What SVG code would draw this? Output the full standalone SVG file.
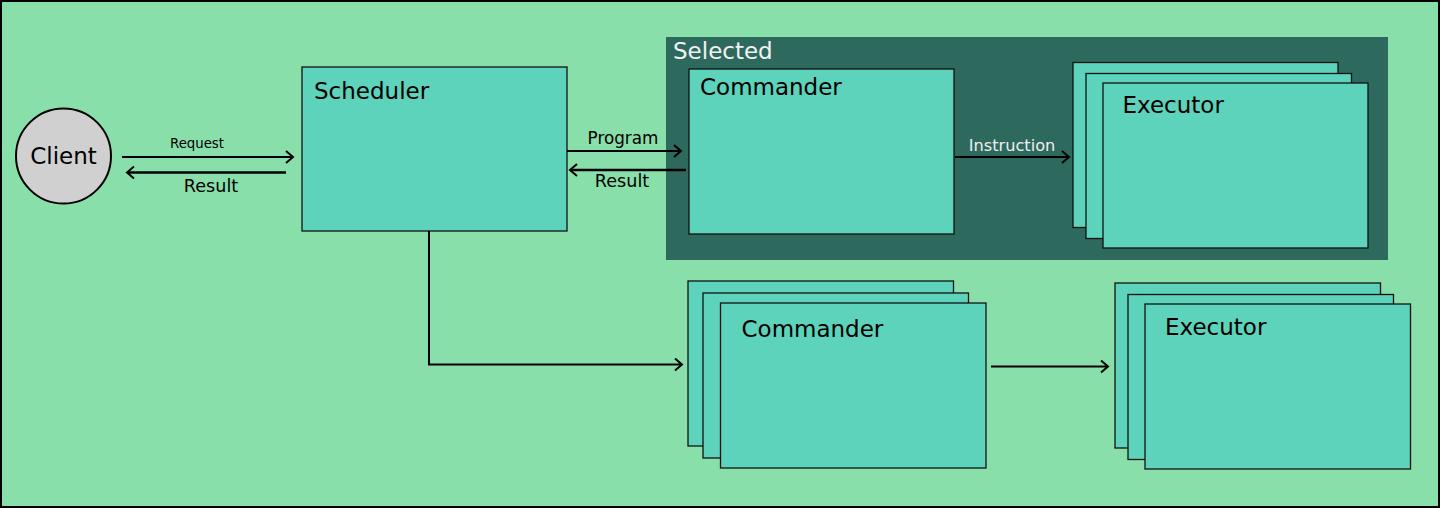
<svg xmlns="http://www.w3.org/2000/svg" width="1440" height="508" viewBox="0 0 1440 508">
<defs>
<style>
.bg{fill:#88dfaa;stroke:#000;stroke-width:2}
.box{fill:#5dd3bb;stroke:#111;stroke-width:1.3}
.lbl{font-family:"DejaVu Sans",sans-serif;font-size:23px;fill:#000}
.small{font-family:"DejaVu Sans",sans-serif;fill:#000}
.conn{fill:none;stroke:#000;stroke-width:2}
.thick{stroke-width:2.6}
</style>
<marker id="arr" markerUnits="userSpaceOnUse" markerWidth="14" markerHeight="16" refX="9" refY="7" orient="auto">
<path d="M2,1 L9,7 L2,13" fill="none" stroke="#000" stroke-width="2"/>
</marker>
</defs>
<rect class="bg" x="1" y="1" width="1438" height="506"/>
<g id="selected">
<rect x="666" y="37" width="722" height="223" fill="#2e695e"/>
<text x="673" y="59" font-family="DejaVu Sans,sans-serif" font-size="23" fill="#f2f2f2">Selected</text>
</g>
<g id="client">
<circle cx="63.5" cy="156" r="47.5" fill="#d0d0d0" stroke="#000" stroke-width="2"/>
<text class="lbl" x="63.5" y="164" text-anchor="middle">Client</text>
</g>
<g id="scheduler">
<rect class="box" x="302" y="67" width="265" height="164"/>
<text class="lbl" x="314" y="99">Scheduler</text>
</g>
<g id="commander-selected">
<rect class="box" x="689" y="69" width="265" height="165"/>
<text class="lbl" x="700" y="95">Commander</text>
</g>
<g id="executor-selected">
<rect class="box" x="1073" y="62.5" width="265" height="165"/>
<rect class="box" x="1086" y="73.5" width="265.5" height="165"/>
<rect class="box" x="1103" y="83" width="265" height="165"/>
<text class="lbl" x="1122.5" y="113">Executor</text>
</g>
<g id="commander-pool">
<rect class="box" x="688" y="281" width="265.5" height="165"/>
<rect class="box" x="703" y="293" width="265.5" height="165"/>
<rect class="box" x="720.5" y="303" width="265.5" height="165"/>
<text class="lbl" x="741.5" y="337">Commander</text>
</g>
<g id="executor-pool">
<rect class="box" x="1115" y="283" width="265.5" height="165"/>
<rect class="box" x="1128" y="294.5" width="265.5" height="165"/>
<rect class="box" x="1145" y="304" width="265.5" height="165"/>
<text class="lbl" x="1165" y="335">Executor</text>
</g>
<g id="connectors">
<line class="conn" x1="122" y1="157" x2="293" y2="157" marker-end="url(#arr)"/>
<text class="small" x="197" y="147.5" font-size="13.3" text-anchor="middle">Request</text>
<line class="conn thick" x1="286" y1="172.5" x2="127" y2="172.5" marker-end="url(#arr)"/>
<text class="small" x="211" y="192" font-size="17.6" text-anchor="middle">Result</text>
<line class="conn" x1="567" y1="151" x2="681" y2="151" marker-end="url(#arr)"/>
<text class="small" x="623" y="144" font-size="16.8" text-anchor="middle">Program</text>
<line class="conn thick" x1="686" y1="170" x2="570" y2="170" marker-end="url(#arr)"/>
<text class="small" x="622" y="187" font-size="17.6" text-anchor="middle">Result</text>
<line class="conn" x1="955" y1="157" x2="1069" y2="157" marker-end="url(#arr)"/>
<text x="1012" y="151" font-family="DejaVu Sans,sans-serif" font-size="16.2" fill="#eeeeee" text-anchor="middle">Instruction</text>
<polyline class="conn" points="429,231 429,364.5 682,364.5" marker-end="url(#arr)"/>
<line class="conn" x1="991" y1="366.5" x2="1108" y2="366.5" marker-end="url(#arr)"/>
</g>
</svg>
